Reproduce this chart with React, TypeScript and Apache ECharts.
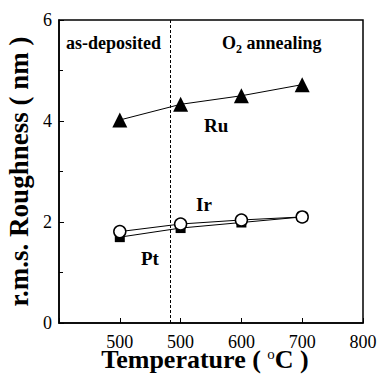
import React, { useEffect, useRef } from "react";
import * as echarts from "echarts";

const temps = [400, 500, 600, 700];
const tickLabels: Record<number, string> = { 400: "500", 500: "500", 600: "600", 700: "700", 800: "800" };
const ru = [4.02, 4.33, 4.5, 4.72];
const ir = [1.81, 1.96, 2.04, 2.1];
const pt = [1.7, 1.88, 1.99, 2.1];
const dividerX = 483;

const FONT = "Liberation Serif";

export default function App() {
  const ref = useRef<HTMLDivElement>(null);
  useEffect(() => {
    const chart = echarts.init(ref.current!, null, { renderer: "svg" });
    const pair = (ys: number[]) => temps.map((t, i) => [t, ys[i]]);
    const txt = (text: string, left: number, top: number, size: number, rich?: any) => ({
      type: "text",
      left,
      top,
      style: { text, fontFamily: FONT, fontSize: size, fontWeight: "bold", fill: "#000", rich },
    });
    chart.setOption({
      animation: false,
      backgroundColor: "#fff",
      textStyle: { fontFamily: FONT, color: "#000" },
      grid: {
        left: 59, right: 15, top: 20, bottom: 58,
        outerBoundsMode: "none", containLabel: false,
        show: true, borderColor: "#000", borderWidth: 1.5,
      },
      xAxis: {
        type: "value",
        min: 300,
        max: 800,
        interval: 100,
        axisLine: { lineStyle: { color: "#000", width: 1.5 } },
        axisTick: { inside: true, length: 5, lineStyle: { color: "#000" } },
        axisLabel: { fontFamily: FONT, fontSize: 18, color: "#000", margin: 10, formatter: (v: number) => tickLabels[v] ?? "" },
        splitLine: { show: false },
      },
      yAxis: {
        type: "value",
        min: 0,
        max: 6,
        interval: 2,
        name: "r.m.s. Roughness ( nm )",
        nameLocation: "middle",
        nameGap: 25,
        nameTextStyle: { fontFamily: FONT, fontSize: 27, fontWeight: "bold", color: "#000" },
        axisLine: { lineStyle: { color: "#000", width: 1.5 } },
        axisTick: { inside: true, length: 5, lineStyle: { color: "#000" } },
        minorTick: { show: true, splitNumber: 2, length: 4, lineStyle: { color: "#000" } },
        axisLabel: { fontFamily: FONT, fontSize: 18, color: "#000", margin: 7 },
        splitLine: { show: false },
      },
      series: [
        {
          name: "Ru",
          type: "line",
          data: pair(ru),
          symbol: "triangle",
          symbolSize: 15,
          itemStyle: { color: "#000" },
          lineStyle: { color: "#000", width: 1 },
          markLine: {
            silent: true,
            symbol: "none",
            label: { show: false },
            lineStyle: { color: "#000", type: [3, 2], width: 1 },
            data: [{ xAxis: dividerX }],
          },
        },
        {
          name: "Pt",
          type: "line",
          data: pair(pt),
          symbol: "rect",
          symbolSize: 10,
          itemStyle: { color: "#000" },
          lineStyle: { color: "#000", width: 1 },
        },
        {
          name: "Ir",
          type: "line",
          data: pair(ir),
          symbol: "circle",
          symbolSize: 12,
          itemStyle: { color: "#fff", borderColor: "#000", borderWidth: 1.5 },
          lineStyle: { color: "#000", width: 1 },
        },
      ],
      graphic: [
        txt("as-deposited", 66, 34, 18),
        txt("O{sub|2} annealing", 222, 34, 18, {
          sub: { fontFamily: FONT, fontSize: 12, fontWeight: "bold", verticalAlign: "bottom", padding: [12, 0, 0, 0] },
        }),
        txt("Ru", 204, 116, 19),
        txt("Ir", 196, 195, 19),
        txt("Pt", 141, 249, 19),
        {
          type: "text",
          x: 205,
          y: 346,
          style: {
            text: "Temperature ( {sup|o}C )",
            fontFamily: FONT,
            fontSize: 26,
            fontWeight: "bold",
            fill: "#000",
            align: "center",
            verticalAlign: "top",
            rich: { sup: { fontFamily: FONT, fontSize: 15, fontWeight: "normal", verticalAlign: "top", fill: "#000" } },
          },
        },
      ],
    });
    return () => chart.dispose();
  }, []);
  return <div ref={ref} style={{ position: "fixed", left: 0, top: 0, width: 378, height: 381 }} />;
}
